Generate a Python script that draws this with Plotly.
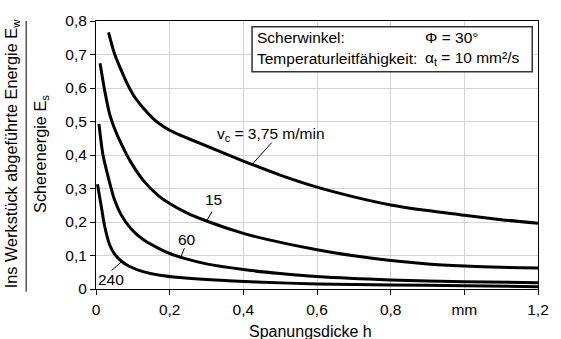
import plotly.graph_objects as go

# Data (x: Spanungsdicke h in mm, y: E_w / E_s)
h_375 = [0.034, 0.05, 0.068, 0.086, 0.103, 0.13, 0.156, 0.174, 0.2, 0.227, 0.262, 0.337, 0.4, 0.5, 0.6, 0.7, 0.8, 0.9, 1.0, 1.1, 1.2]
e_375 = [0.766, 0.703, 0.654, 0.610, 0.576, 0.538, 0.508, 0.492, 0.474, 0.460, 0.444, 0.410, 0.382, 0.340, 0.304, 0.275, 0.251, 0.234, 0.220, 0.207, 0.196]

h_15 = [0.011, 0.024, 0.037, 0.05, 0.07, 0.095, 0.13, 0.17, 0.2, 0.245, 0.3, 0.4, 0.461, 0.6, 0.7, 0.8, 0.9, 1.0, 1.1, 1.2]
e_15 = [0.674, 0.590, 0.522, 0.480, 0.430, 0.378, 0.322, 0.278, 0.255, 0.228, 0.203, 0.166, 0.149, 0.117, 0.099, 0.085, 0.075, 0.069, 0.065, 0.063]

h_60 = [0.008, 0.019, 0.033, 0.05, 0.068, 0.095, 0.13, 0.174, 0.2, 0.245, 0.3, 0.4, 0.5, 0.6, 0.8, 1.0, 1.2]
e_60 = [0.493, 0.400, 0.335, 0.267, 0.222, 0.180, 0.146, 0.119, 0.106, 0.090, 0.075, 0.058, 0.046, 0.037, 0.027, 0.022, 0.019]

h_240 = [0.004, 0.015, 0.024, 0.037, 0.05, 0.07, 0.09, 0.13, 0.174, 0.227, 0.3, 0.435, 0.6, 0.8, 1.0, 1.2]
e_240 = [0.313, 0.242, 0.185, 0.132, 0.105, 0.082, 0.068, 0.051, 0.041, 0.034, 0.028, 0.021, 0.015, 0.012, 0.010, 0.007]

x_tickvals = [0, 0.2, 0.4, 0.6, 0.8, 1.0, 1.2]
x_ticktext = ["0", "0,2", "0,4", "0,6", "0,8", "mm", "1,2"]
y_tickvals = [0, 0.1, 0.2, 0.3, 0.4, 0.5, 0.6, 0.7, 0.8]
y_ticktext = ["0", "0,1", "0,2", "0,3", "0,4", "0,5", "0,6", "0,7", "0,8"]

curve_labels = ["v<sub>c</sub> = 3,75 m/min", "15", "60", "240"]
# label text position and leader line (start, end) in data coords
label_pos = [(0.476, 0.462), (0.318, 0.266), (0.248, 0.148), (0.042, 0.028)]
leader = [((0.477, 0.437), (0.424, 0.372)),
          ((0.315, 0.231), (0.300, 0.203)),
          ((0.240, 0.122), (0.231, 0.097)),
          ((0.042, 0.055), (0.072, 0.084))]

FONT = "Liberation Sans, Arial, sans-serif"

fig = go.Figure()
for hx, ey in [(h_375, e_375), (h_15, e_15), (h_60, e_60), (h_240, e_240)]:
    fig.add_trace(go.Scatter(x=hx, y=ey, mode="lines",
                             line=dict(color="black", width=3, shape="spline", smoothing=0.8),
                             showlegend=False, hoverinfo="skip"))

for (lx, ly), txt in zip(label_pos, curve_labels):
    fig.add_annotation(x=lx, y=ly, text=txt, showarrow=False,
                       font=dict(family=FONT, size=15.5, color="black"),
                       xanchor="center", yanchor="middle")
for (p0, p1) in leader:
    fig.add_shape(type="line", x0=p0[0], y0=p0[1], x1=p1[0], y1=p1[1],
                  xref="x", yref="y", line=dict(color="black", width=1))

# info box
fig.add_shape(type="rect", xref="paper", yref="paper", x0=0.353, x1=0.987, y0=0.811, y1=0.979,
              line=dict(color="#333333", width=1.5), fillcolor="white", layer="above")
info_left = ["Scherwinkel:", "Temperaturleitfähigkeit:"]
info_right = ["Φ = 30°", "α<sub>t</sub> = 10 mm²/s"]
for i, (a, b) in enumerate(zip(info_left, info_right)):
    yy = 0.937 - i * 0.077
    fig.add_annotation(xref="paper", yref="paper", x=0.360, y=yy, text=a, showarrow=False,
                       xanchor="left", yanchor="middle",
                       font=dict(family=FONT, size=15.5, color="black"))
    fig.add_annotation(xref="paper", yref="paper", x=0.740, y=yy, text=b, showarrow=False,
                       xanchor="left", yanchor="middle",
                       font=dict(family=FONT, size=15.5, color="black"))

# y-axis title as fraction
fig.add_annotation(xref="paper", yref="paper", x=-0.190, y=0.503,
                   text="Ins Werkstück abgeführte Energie E<sub>w</sub>", textangle=-90,
                   showarrow=False, xanchor="center", yanchor="middle",
                   font=dict(family=FONT, size=16.3, color="black"))
fig.add_annotation(xref="paper", yref="paper", x=-0.125, y=0.503,
                   text="Scherenergie E<sub>s</sub>", textangle=-90,
                   showarrow=False, xanchor="center", yanchor="middle",
                   font=dict(family=FONT, size=16.3, color="black"))
fig.add_shape(type="line", xref="paper", yref="paper", x0=-0.158, x1=-0.158, y0=-0.01, y1=1.0,
              line=dict(color="black", width=1))

# x-axis title
fig.add_annotation(xref="paper", yref="paper", x=0.486, y=-0.158, text="Spanungsdicke h",
                   showarrow=False, xanchor="center", yanchor="middle",
                   font=dict(family=FONT, size=16, color="black"))

axis_common = dict(showgrid=True, gridcolor="#d4d4d4", gridwidth=1,
                   showline=True, linecolor="black", linewidth=1, mirror=True,
                   ticks="outside", ticklen=5, tickcolor="black", tickwidth=1,
                   zeroline=False, tickfont=dict(family=FONT, size=15.5, color="black"))

fig.update_xaxes(range=[0, 1.2], tickvals=x_tickvals, ticktext=x_ticktext,
                 ticklabelstandoff=1, **axis_common)
fig.update_yaxes(range=[0, 0.8], tickvals=y_tickvals, ticktext=y_ticktext, **axis_common)

fig.update_layout(width=561, height=339, margin=dict(l=96, r=12, t=15, b=50),
                  plot_bgcolor="white", paper_bgcolor="white",
                  font=dict(family=FONT, size=15.5, color="black"))

fig.write_html("out.html")
